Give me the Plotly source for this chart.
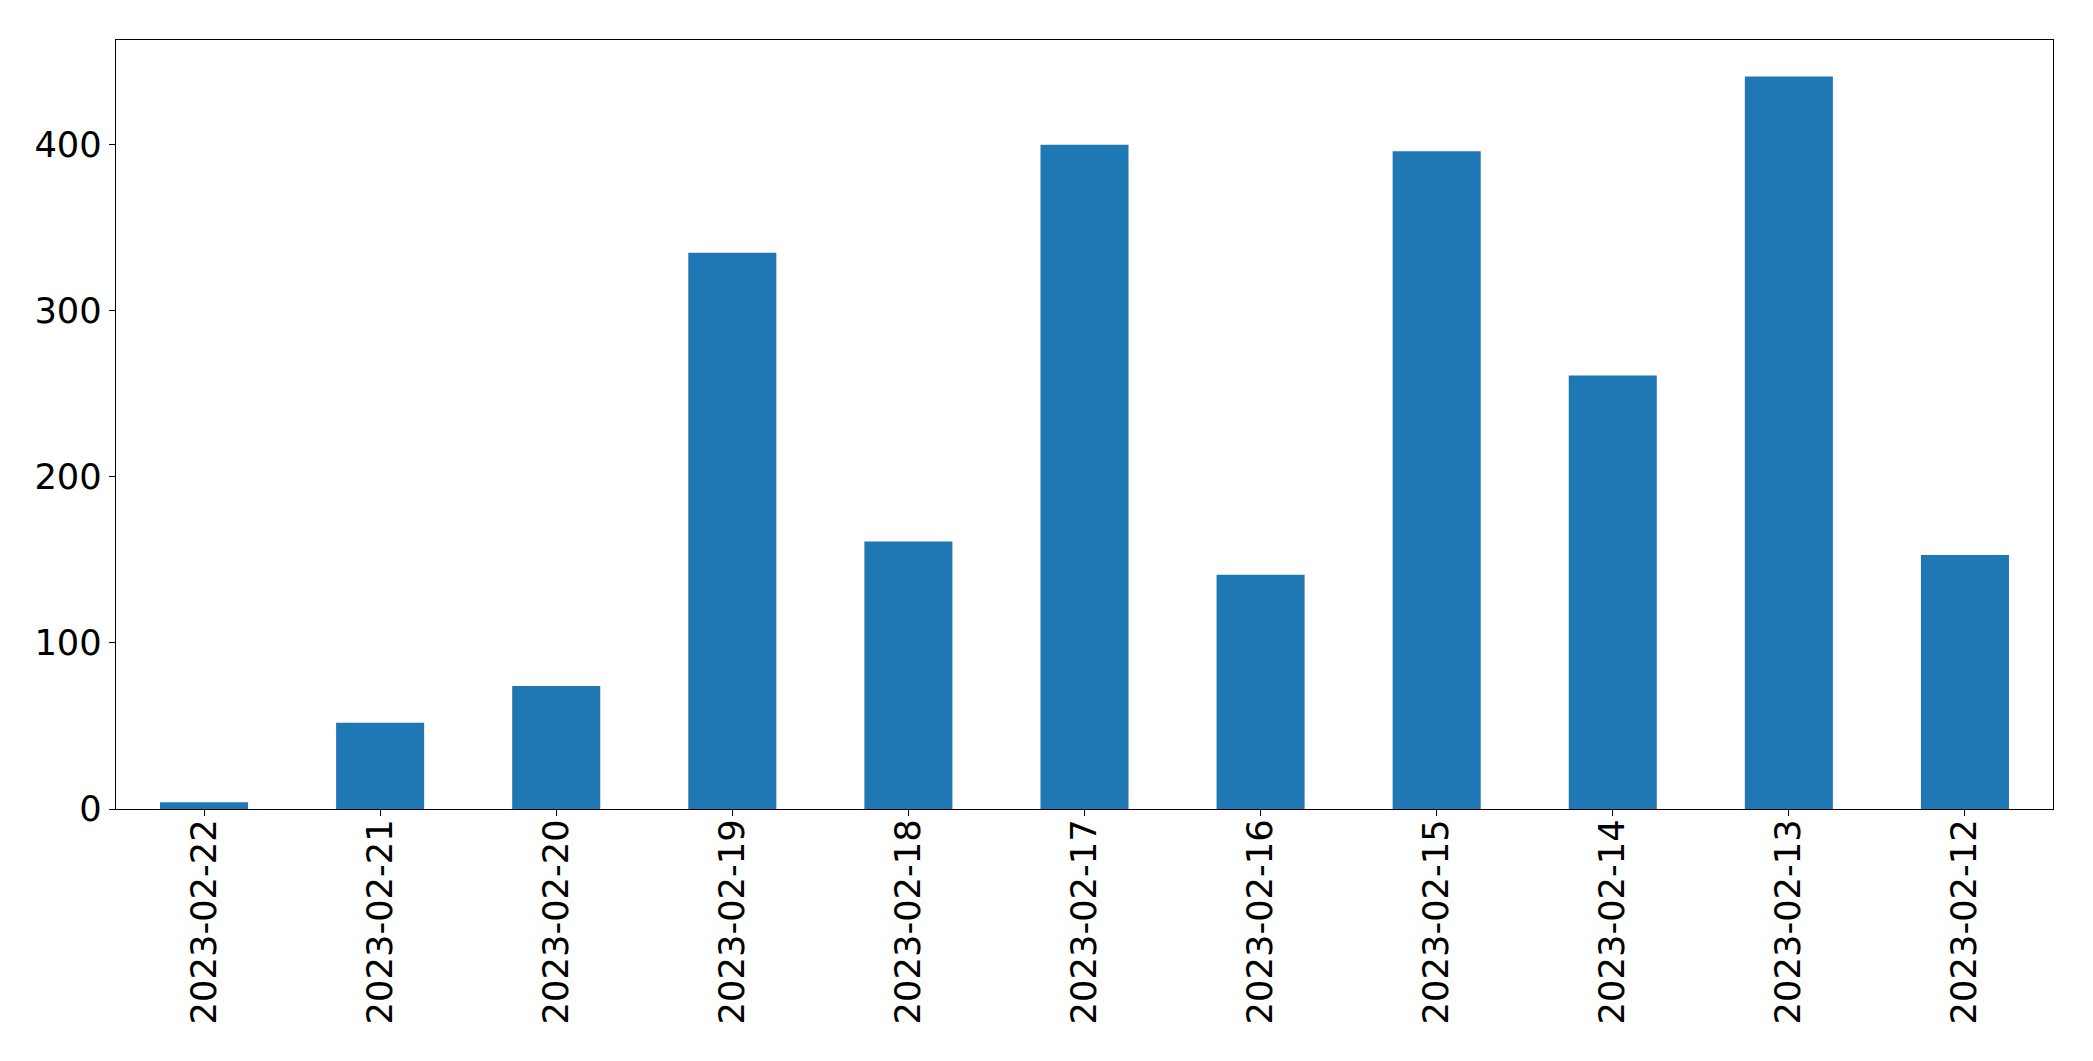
import plotly.graph_objects as go

dates = ["2023-02-22", "2023-02-21", "2023-02-20", "2023-02-19", "2023-02-18",
         "2023-02-17", "2023-02-16", "2023-02-15", "2023-02-14", "2023-02-13",
         "2023-02-12"]
counts = [4, 52, 74, 335, 161, 400, 141, 396, 261, 441, 153]
y_ticks = [0, 100, 200, 300, 400]

fig = go.Figure()
fig.add_trace(go.Bar(x=dates, y=counts, marker=dict(color="#1f77b4", line=dict(width=0)),
                     width=0.5))

axis_common = dict(
    showline=True, linecolor="black", linewidth=1.3, mirror=True,
    ticks="outside", ticklen=6, tickwidth=1.3, tickcolor="black",
    showgrid=False, zeroline=False,
    tickfont=dict(family="DejaVu Sans", size=35.3, color="black"),
)

fig.update_layout(
    width=2093, height=1061,
    margin=dict(l=108, r=48, t=32, b=260),
    paper_bgcolor="white", plot_bgcolor="white",
    showlegend=False,
    xaxis=dict(type="category", range=[-0.5, len(dates) - 0.5], tickangle=-90,
               ticklabelstandoff=-11, **axis_common),
    yaxis=dict(range=[0, max(counts) * 1.05], tickvals=y_ticks,
               ticktext=[str(v) for v in y_ticks], **axis_common),
)

fig.write_html("out.html")
